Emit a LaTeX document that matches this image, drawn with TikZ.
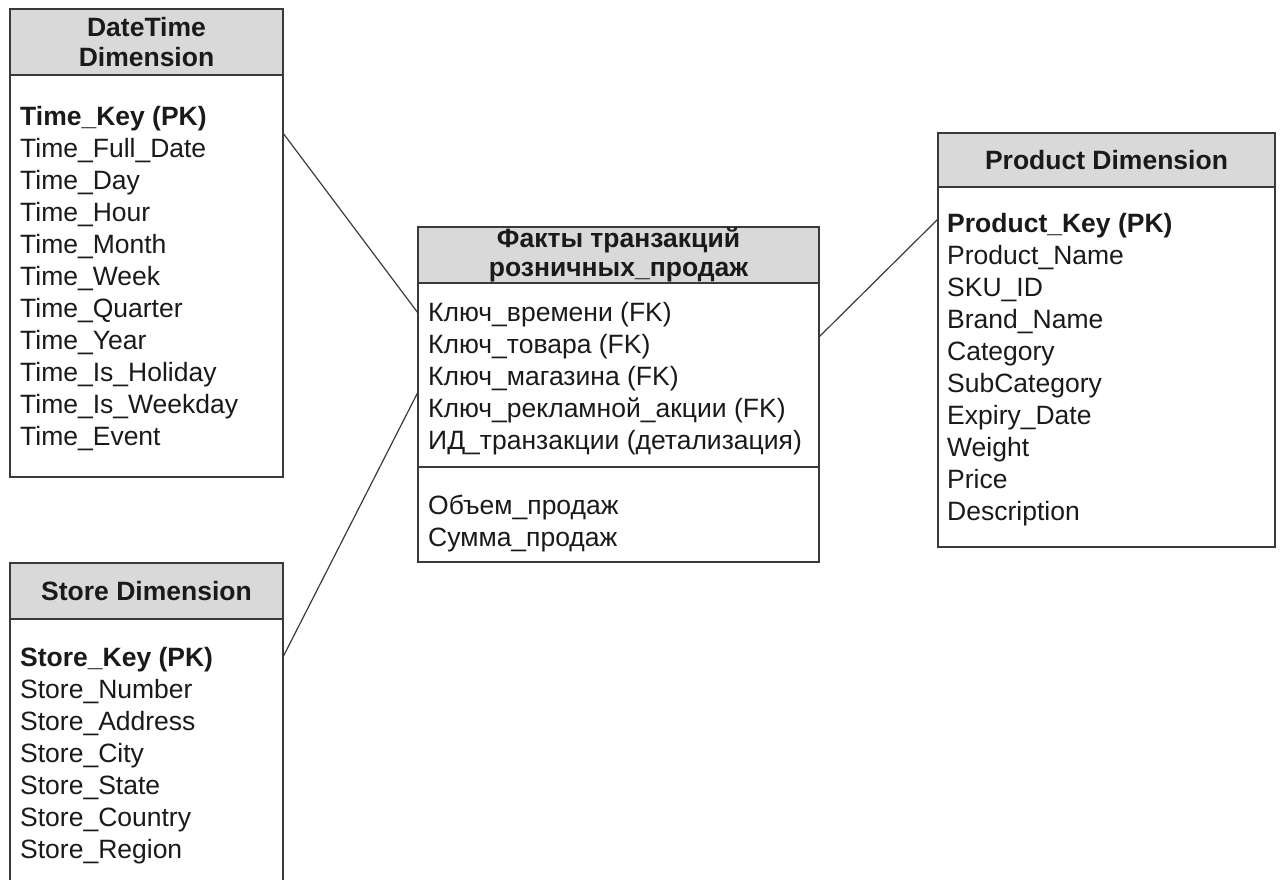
\documentclass[tikz,border=0pt]{standalone}
\usepackage{fontspec}
\setmainfont{Liberation Sans}
\definecolor{edge}{HTML}{3A3A3A}
\definecolor{headgray}{HTML}{D9D9D9}
\definecolor{ink}{HTML}{1A1A1A}

\begin{document}
\begin{tikzpicture}[x=1pt, y=-1pt,
    tblhead/.style={draw=edge, fill=headgray, line width=1.5pt, inner sep=0pt, outer sep=0pt,
      anchor=north west, align=center, text=ink, font=\bfseries\fontsize{26.5}{29.5}\selectfont},
    tblbody/.style={draw=edge, fill=white, line width=1.5pt, inner sep=0pt, outer sep=0pt, anchor=north west},
    fields/.style={anchor=base west, inner sep=0pt, align=left, text=ink, font=\fontsize{26.5}{32}\selectfont},
    link/.style={draw=edge, line width=1.2pt}]
    \clip (0,0) rectangle (1280,879);

    % DateTime dimension (field lists are placed by the baseline of their last line)
    \node[tblhead, minimum width=273pt, minimum height=66pt] (dtHead) at (10,9) {DateTime\\Dimension};
    \node[tblbody, minimum width=273pt, minimum height=402pt] (dtBody) at (dtHead.south west) {};
    \node[fields] (dtFields) at (20,445) {\textbf{Time\_Key (PK)}\\Time\_Full\_Date\\Time\_Day\\Time\_Hour\\Time\_Month\\Time\_Week\\Time\_Quarter\\Time\_Year\\Time\_Is\_Holiday\\Time\_Is\_Weekday\\Time\_Event};

    % Store dimension (runs past the lower edge)
    \node[tblhead, minimum width=273pt, minimum height=56pt] (stHead) at (10,563) {Store Dimension};
    \node[tblbody, minimum width=273pt, minimum height=300pt] (stBody) at (stHead.south west) {};
    \node[fields] (stFields) at (20,858) {\textbf{Store\_Key (PK)}\\Store\_Number\\Store\_Address\\Store\_City\\Store\_State\\Store\_Country\\Store\_Region};

    % Fact table
    \node[tblhead, minimum width=401pt, minimum height=56pt] (factHead) at (418,227) {Факты транзакций\\розничных\_продаж};
    \node[tblbody, minimum width=401pt, minimum height=184pt] (fkBody) at (factHead.south west) {};
    \node[tblbody, minimum width=401pt, minimum height=95pt] (msBody) at (fkBody.south west) {};
    \node[fields] (fkFields) at (428,449) {Ключ\_времени (FK)\\Ключ\_товара (FK)\\Ключ\_магазина (FK)\\Ключ\_рекламной\_акции (FK)\\ИД\_транзакции (детализация)};
    \node[fields] (msFields) at (428,546) {Объем\_продаж\\Сумма\_продаж};

    % Product dimension
    \node[tblhead, minimum width=337pt, minimum height=54pt] (prHead) at (938,133) {Product Dimension};
    \node[tblbody, minimum width=337pt, minimum height=360pt] (prBody) at (prHead.south west) {};
    \node[fields] (prFields) at (947,520) {\textbf{Product\_Key (PK)}\\Product\_Name\\SKU\_ID\\Brand\_Name\\Category\\SubCategory\\Expiry\_Date\\Weight\\Price\\Description};

    % links
    \coordinate (dtPort) at (dtBody.east |- 0,133);
    \coordinate (factTime) at (fkBody.west |- 0,313);
    \coordinate (stPort) at (stBody.east |- 0,657);
    \coordinate (factStore) at (fkBody.west |- 0,392);
    \coordinate (factProd) at (fkBody.east |- 0,337);
    \coordinate (prPort) at (prBody.west |- 0,219);

    \draw[link] (dtPort) -- (factTime);
    \draw[link] (factStore) -- (stPort);
    \draw[link] (factProd) -- (prPort);
\end{tikzpicture}
\end{document}
